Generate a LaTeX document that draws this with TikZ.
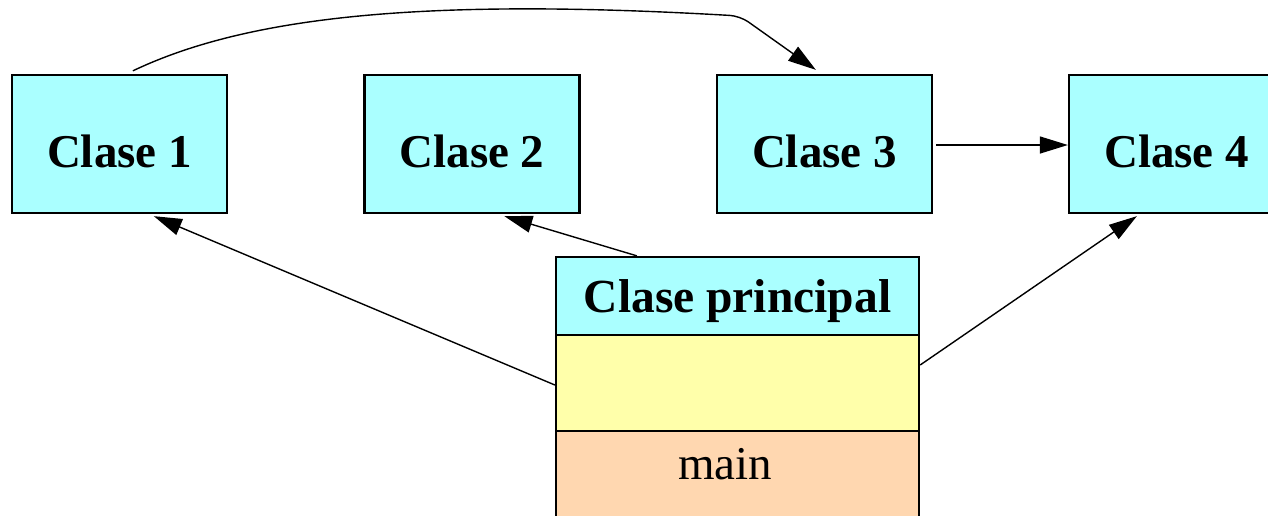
\documentclass[tikz,border=0pt]{standalone}
\usepackage{fontspec}
\setmainfont{Liberation Serif}
\usetikzlibrary{arrows.meta,calc}
\definecolor{clscyan}{RGB}{170,255,255}
\definecolor{fldyellow}{RGB}{255,255,170}
\definecolor{mthpeach}{RGB}{255,215,176}
\tikzset{
  classbox/.style={draw=black,line width=2.3pt,fill=clscyan,minimum width=215pt,minimum height=138pt,
    inner sep=0pt,font=\fontsize{47}{50}\selectfont\bfseries,text height=46pt,text depth=0pt},
  partbox/.style={draw=black,line width=2.3pt,minimum width=363pt,inner sep=0pt},
  conn/.style={line width=1.4pt,-{Triangle[length=28pt,width=17pt]}}
}
\begin{document}
\begin{tikzpicture}[x=1pt,y=-1pt]
\clip (0,0) rectangle (1268,515);
\fill[white] (0,0) rectangle (1268,515);
\node[classbox] (c1) at (119.5,144) {Clase 1};
\node[classbox] (c2) at (472,144) {Clase 2};
\node[classbox] (c3) at (824.5,144) {Clase 3};
\node[classbox] (c4) at (1176.5,144) {Clase 4};
\node[partbox,fill=clscyan,minimum height=78pt,font=\fontsize{47.5}{50}\selectfont\bfseries,text height=32pt,text depth=0pt] (hd) at (737.5,296) {Clase principal};
\node[partbox,fill=fldyellow,minimum height=96pt] (fld) at (737.5,383) {};
\node[partbox,fill=mthpeach,minimum height=100pt,font=\fontsize{47}{50}\selectfont,text height=30pt,text depth=34pt] (mth) at (737.5,481) {main\hspace*{25pt}};
\draw[conn,rounded corners=10pt] ($(c1.north west)+(122,-3)$) .. controls (250,15) and (430,-2) .. (740,16) -- ($(c3.north west)+(100,-4)$);
\draw[conn] ($(c3.east)+(3,1)$) -- ($(c4.west)+(0,1)$);
\draw[conn] ($(fld.west)+(0,2)$) -- ($(c1.south west)+(143,2)$);
\draw[conn] ($(hd.north west)+(82,0)$) -- ($(c2.south west)+(141,2)$);
\draw[conn] ($(fld.east)+(0,-18)$) -- ($(c4.south west)+(69,2)$);
\end{tikzpicture}
\end{document}
